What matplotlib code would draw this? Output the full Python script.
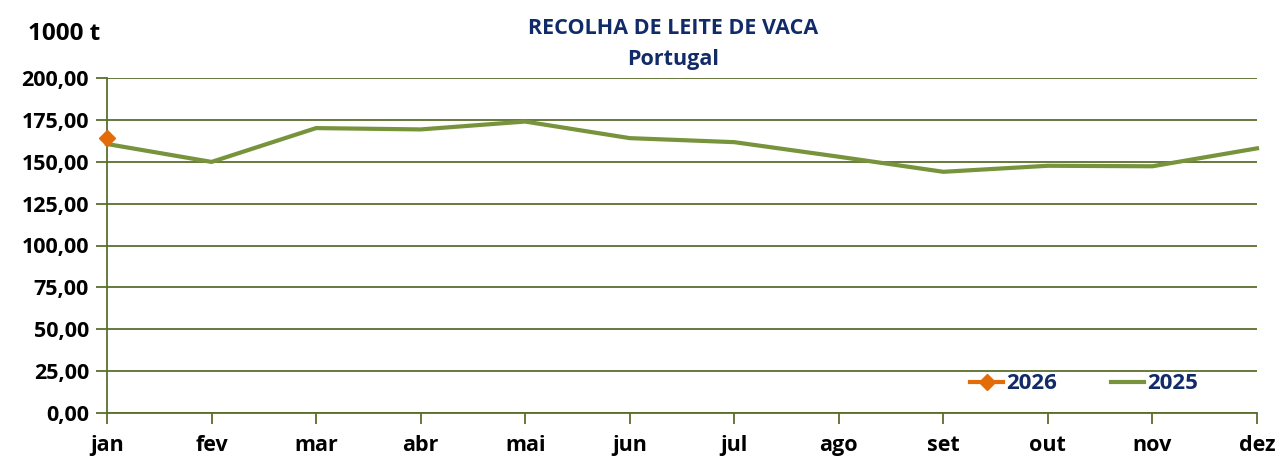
import matplotlib.pyplot as plt
from matplotlib.ticker import FuncFormatter

# dados (1000 t)
meses = ['jan', 'fev', 'mar', 'abr', 'mai', 'jun', 'jul', 'ago', 'set', 'out', 'nov', 'dez']
leite_2025 = [160.6, 149.9, 170.1, 169.3, 174.0, 164.1, 161.7, 153.0, 144.0, 147.6, 147.3, 158.0]
leite_2026 = [164.3]

verde = '#77933C'
grelha = '#5A6E2C'
laranja = '#E36C09'
azul = '#112B68'

plt.rcParams['font.family'] = ['Open Sans', 'DejaVu Sans']
plt.rcParams['font.weight'] = 'bold'

fig = plt.figure(figsize=(12.78, 4.57), dpi=100)
ax = fig.add_axes([107 / 1278, 44 / 457, 1150 / 1278, 335 / 457])

x = list(range(len(meses)))
ax.plot(x[:len(leite_2026)], leite_2026, color=laranja, lw=3, marker='D', ms=8,
        label='2026', zorder=4, clip_on=False)
ax.plot(x, leite_2025, color=verde, lw=3, label='2025', zorder=3, clip_on=False)

ax.set_xlim(0, 11)
ax.set_ylim(0, 200)
ax.set_yticks(range(0, 201, 25))
ax.yaxis.set_major_formatter(FuncFormatter(lambda v, p: '{:.2f}'.format(v).replace('.', ',')))
ax.set_xticks(x)
ax.set_xticklabels(meses)

# grelha horizontal
ax.grid(axis='y', color=grelha, lw=1.3)
ax.set_axisbelow(True)
for s in ['top', 'right']:
    ax.spines[s].set_visible(False)
for s in ['left', 'bottom']:
    ax.spines[s].set_color(grelha)
    ax.spines[s].set_linewidth(1.3)

ax.tick_params(axis='y', length=8, width=1.3, color=grelha, labelsize=15.5, pad=5)
ax.tick_params(axis='x', length=8, width=1.3, color=grelha, labelsize=15.5, pad=8)

fig.text(28 / 1278, 1 - 34 / 457, '1000 t', fontsize=17.5, fontweight='bold',
         va='center', ha='left')
fig.text(673 / 1278, 1 - 29 / 457, 'RECOLHA DE LEITE DE VACA', fontsize=15.5,
         fontweight='bold', color=azul, ha='center', va='center')
fig.text(673 / 1278, 1 - 59 / 457, 'Portugal', fontsize=15.5,
         fontweight='bold', color=azul, ha='center', va='center')

leg = ax.legend(loc='center right', bbox_to_anchor=(0.949, 0.087), ncol=2, frameon=False,
                fontsize=16, handlelength=1.5, columnspacing=2.4, handletextpad=0.15,
                borderpad=0, borderaxespad=0)
for t in leg.get_texts():
    t.set_color(azul)

fig.savefig('out.png', dpi=100)
